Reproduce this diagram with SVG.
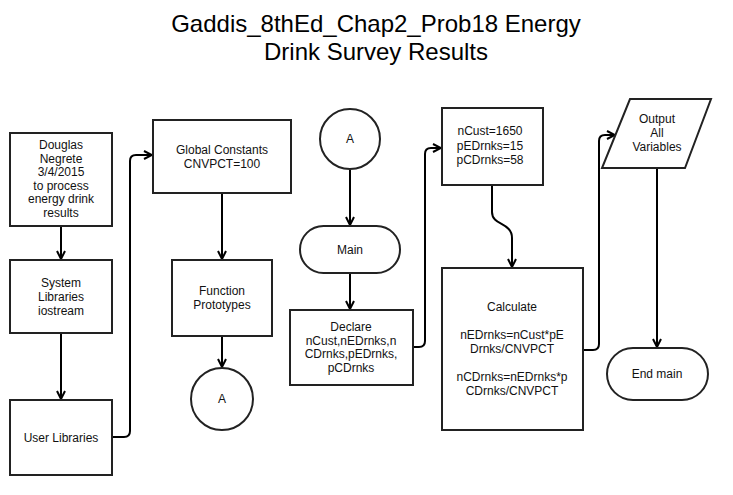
<svg xmlns="http://www.w3.org/2000/svg" width="733" height="495" viewBox="0 0 733 495">
<defs>
<style>
.box{fill:#fff;stroke:#222;stroke-width:2}
.t{font-family:"Liberation Sans",Arial,sans-serif;font-size:12px;fill:#111;text-anchor:middle}
.title{font-family:"Liberation Sans",Arial,sans-serif;font-size:24px;fill:#000;text-anchor:middle}
.c{fill:none;stroke:#000;stroke-width:2}
</style>
<marker id="ah" viewBox="0 0 10 10" refX="9" refY="5" markerWidth="10" markerHeight="10" markerUnits="userSpaceOnUse" orient="auto">
<path d="M1,1 L9,5 L1,9" fill="none" stroke="#000" stroke-width="2"/>
</marker>
</defs>
<rect width="733" height="495" fill="#fff"/>
<g id="title">
<text class="title" x="376" y="32">Gaddis_8thEd_Chap2_Prob18 Energy</text>
<text class="title" x="376" y="60">Drink Survey Results</text>
</g>
<g id="connectors">
<path class="c" d="M61,226 V259" marker-end="url(#ah)"/>
<path class="c" d="M61,333 V399" marker-end="url(#ah)"/>
<path class="c" d="M112,437 H124 Q130,437 130,431 V161 Q130,155 136,155 H152" marker-end="url(#ah)"/>
<path class="c" d="M222,193 V259" marker-end="url(#ah)"/>
<path class="c" d="M222,336 V367" marker-end="url(#ah)"/>
<path class="c" d="M350,170 V225" marker-end="url(#ah)"/>
<path class="c" d="M350,273 V309" marker-end="url(#ah)"/>
<path class="c" d="M413,347 H419 Q425,347 425,341 V154 Q425,148 431,148 H441" marker-end="url(#ah)"/>
<path class="c" d="M492,185 V212 C492,226 512,222 512,238 V267" marker-end="url(#ah)"/>
<path class="c" d="M583,350 H593 Q599,350 599,344 V141 Q599,135 605,135 H615" marker-end="url(#ah)"/>
<path class="c" d="M657,168 V347" marker-end="url(#ah)"/>
</g>
<g id="author">
<rect class="box" x="10" y="133" width="102" height="93"/>
<text class="t" x="61" y="149">Douglas</text>
<text class="t" x="61" y="162.5">Negrete</text>
<text class="t" x="61" y="176">3/4/2015</text>
<text class="t" x="61" y="189.5">to process</text>
<text class="t" x="61" y="203">energy drink</text>
<text class="t" x="61" y="216.5">results</text>
</g>
<g id="syslib">
<rect class="box" x="10" y="260" width="102" height="73"/>
<text class="t" x="61" y="287">System</text>
<text class="t" x="61" y="301">Libraries</text>
<text class="t" x="61" y="315">iostream</text>
</g>
<g id="userlib">
<rect class="box" x="10" y="400" width="102" height="75"/>
<text class="t" x="61" y="442">User Libraries</text>
</g>
<g id="globals">
<rect class="box" x="153" y="120" width="138" height="73"/>
<text class="t" x="222" y="154">Global Constants</text>
<text class="t" x="222" y="168">CNVPCT=100</text>
</g>
<g id="protos">
<rect class="box" x="172" y="260" width="100" height="76"/>
<text class="t" x="222" y="295">Function</text>
<text class="t" x="222" y="309">Prototypes</text>
</g>
<g id="connA1">
<circle class="box" cx="222" cy="399" r="31"/>
<text class="t" x="222" y="403">A</text>
</g>
<g id="connA2">
<circle class="box" cx="350" cy="139" r="30"/>
<text class="t" x="350" y="143">A</text>
</g>
<g id="main">
<rect class="box" x="300" y="226" width="100" height="47" rx="23.5"/>
<text class="t" x="350" y="254">Main</text>
</g>
<g id="declare">
<rect class="box" x="290" y="310" width="123" height="75"/>
<text class="t" x="351" y="331">Declare</text>
<text class="t" x="351" y="344.5">nCust,nEDrnks,n</text>
<text class="t" x="351" y="358">CDrnks,pEDrnks,</text>
<text class="t" x="351" y="371.5">pCDrnks</text>
</g>
<g id="init">
<rect class="box" x="442" y="108" width="101" height="77"/>
<text class="t" x="490" y="135">nCust=1650</text>
<text class="t" x="490" y="150">pEDrnks=15</text>
<text class="t" x="490" y="164">pCDrnks=58</text>
</g>
<g id="calc">
<rect class="box" x="442" y="268" width="141" height="162"/>
<text class="t" x="512" y="311">Calculate</text>
<text class="t" x="512" y="339">nEDrnks=nCust*pE</text>
<text class="t" x="512" y="353">Drnks/CNVPCT</text>
<text class="t" x="512" y="381">nCDrnks=nEDrnks*p</text>
<text class="t" x="512" y="395">CDrnks/CNVPCT</text>
</g>
<g id="output">
<polygon class="box" points="630,99 711,99 685,168 602,168"/>
<text class="t" x="657" y="123">Output</text>
<text class="t" x="657" y="137">All</text>
<text class="t" x="657" y="151">Variables</text>
</g>
<g id="endmain">
<rect class="box" x="607" y="348" width="101" height="52" rx="26"/>
<text class="t" x="657" y="378">End main</text>
</g>
</svg>
